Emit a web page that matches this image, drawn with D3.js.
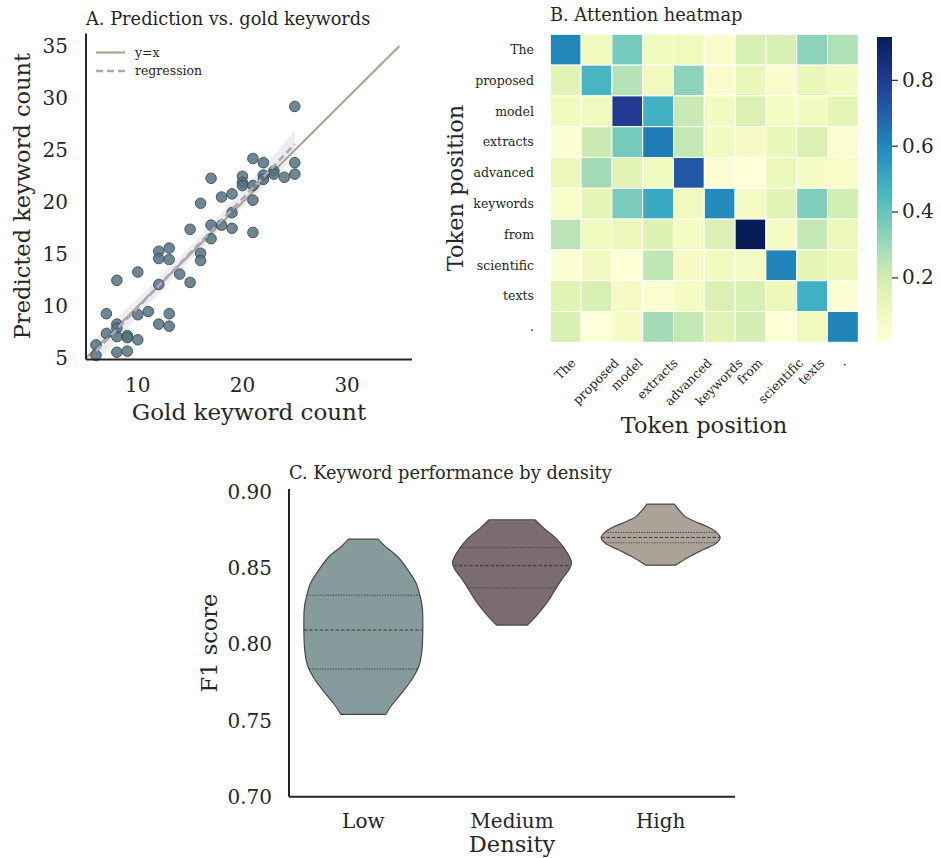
<!DOCTYPE html>
<html>
<head>
<meta charset="utf-8">
<script src="https://cdn.jsdelivr.net/npm/d3@7"></script>
<style>
  body { margin: 0; background: #fff; }
  svg text { font-family: "DejaVu Serif", serif; fill: #262626; }
</style>
</head>
<body>
<div id="container"></div>
<script>
// A. scatter: gold vs predicted counts
var goldCounts = [25,21,22,25,25,24,23,23,22,22, 20,20,20,21,21,21,19,18,17,16,
                  19,17,18,19,15,17,16,16,13,12, 12,13,14,15,10,8,12,11,10,13,
                  7,8,12,13,7,8,8,9,9,10, 6,8,9,6];
var predCounts = [29.2,24.2,23.8,23.8,22.7,22.4,23.0,22.7,22.6,22.2,
                  22.5,21.9,21.6,21.6,20.2,17.1,20.8,20.5,22.3,19.9,
                  19.0,17.8,17.8,17.5,17.4,16.5,15.1,14.4,15.6,15.3,
                  14.6,14.5,13.1,12.3,13.3,12.5,12.1,9.5,9.2,9.3,
                  9.3,8.3,8.3,8.1,7.4,7.9,7.1,7.2,7.0,6.8,
                  6.3,5.6,5.7,5.3];
var scatterXTicks = [10, 20, 30];
var scatterYTicks = [5, 10, 15, 20, 25, 30, 35];

// B. attention heatmap
var tokens = ["The","proposed","model","extracts","advanced","keywords","from","scientific","texts","."];
var attention = [
  [0.60,0.09,0.37,0.09,0.09,0.04,0.18,0.18,0.33,0.27],
  [0.15,0.46,0.26,0.09,0.33,0.04,0.12,0.04,0.12,0.08],
  [0.09,0.09,0.80,0.48,0.22,0.09,0.17,0.07,0.08,0.14],
  [0.02,0.21,0.37,0.63,0.23,0.09,0.06,0.12,0.17,0.03],
  [0.10,0.29,0.15,0.09,0.72,0.03,0.01,0.11,0.07,0.05],
  [0.05,0.14,0.36,0.50,0.09,0.59,0.07,0.15,0.35,0.20],
  [0.25,0.09,0.11,0.16,0.07,0.17,0.93,0.07,0.23,0.11],
  [0.02,0.08,0.01,0.24,0.06,0.09,0.07,0.61,0.14,0.10],
  [0.15,0.18,0.06,0.03,0.07,0.17,0.18,0.11,0.48,0.02],
  [0.18,0.003,0.06,0.29,0.23,0.15,0.19,0.005,0.09,0.61]
];
var colorbarTicks = [0.2, 0.4, 0.6, 0.8];

// C. violins: outline (F1 value, relative width)
var densities = ["Low", "Medium", "High"];
var violinColors = ["#869b9b", "#7b6c74", "#ada297"];
var lowF1   = [0.8691,0.8640,0.8575,0.8488,0.8400,0.8323,0.8247,0.8094,0.7941,0.7853,0.7766,0.7678,0.7602,0.7541];
var lowDens = [0.248,0.38,0.58,0.75,0.89,0.95,0.99,1.0,0.98,0.93,0.81,0.64,0.48,0.38];
var medF1   = [0.8818,0.8761,0.8696,0.8630,0.8564,0.8538,0.8499,0.8433,0.8368,0.8280,0.8192,0.8127];
var medDens = [0.385,0.54,0.74,0.88,0.98,1.0,0.97,0.85,0.74,0.60,0.42,0.26];
var highF1   = [0.8921,0.8881,0.8837,0.8805,0.8772,0.8739,0.8702,0.8663,0.8619,0.8575,0.8520];
var highDens = [0.23,0.31,0.42,0.59,0.79,0.93,1.0,0.93,0.70,0.48,0.25];
var lowQuart  = [0.7838, 0.8094, 0.8323];
var medQuart  = [0.8371, 0.8516, 0.8634];
var highQuart = [0.8667, 0.8702, 0.8735];
var f1Ticks = [0.70, 0.75, 0.80, 0.85, 0.90];

var width = 941, height = 858;
var ink = "#262626";
var titleSize = "17.8px";

var svg = d3.select("#container").append("svg")
  .attr("width", width).attr("height", height);

// ---------- A ----------
var xA = d3.scaleLinear().domain([5.05, 36.2]).range([86, 412]);
var yA = d3.scaleLinear().domain([4.9, 36.2]).range([359.5, 33.5]);
var gA = svg.append("g");

gA.append("text").attr("x", 86).attr("y", 25).style("font-size", titleSize)
  .text("A. Prediction vs. gold keywords");

// regression + CI
var n = goldCounts.length;
var mx = d3.mean(goldCounts), my = d3.mean(predCounts);
var sxx = d3.sum(goldCounts, function(d){ return (d - mx) * (d - mx); });
var sxy = d3.sum(goldCounts, function(d, i){ return (d - mx) * (predCounts[i] - my); });
var slope = sxy / sxx, icpt = my - slope * mx;
var sse = d3.sum(goldCounts, function(d, i){ var r = predCounts[i] - (icpt + slope * d); return r * r; });
var se = Math.sqrt(sse / (n - 2));
var tval = 2.006;
var xmin = d3.min(goldCounts), xmax = d3.max(goldCounts);
var band = d3.range(0, 101).map(function(k){
  var x = xmin + (xmax - xmin) * k / 100;
  var yh = icpt + slope * x;
  var h = tval * se * Math.sqrt(1 / n + (x - mx) * (x - mx) / sxx);
  return { x: x, lo: yh - h, hi: yh + h };
});
gA.append("path").datum(band)
  .attr("d", d3.area().x(function(d){ return xA(d.x); })
    .y0(function(d){ return yA(d.lo); }).y1(function(d){ return yA(d.hi); }))
  .attr("fill", "#aba9bb").attr("opacity", 0.22);

gA.append("line")
  .attr("x1", xA(5.05)).attr("y1", yA(5.05)).attr("x2", xA(35)).attr("y2", yA(35))
  .attr("stroke", "#b1a294").attr("stroke-width", 2.2);

gA.selectAll("circle").data(goldCounts).enter().append("circle")
  .attr("cx", function(d){ return xA(d); })
  .attr("cy", function(d, i){ return yA(predCounts[i]); })
  .attr("r", 5.3)
  .attr("fill", "#56727f").attr("fill-opacity", 0.85)
  .attr("stroke", "#2f424b").attr("stroke-width", 0.8);

gA.append("line")
  .attr("x1", xA(xmin)).attr("y1", yA(icpt + slope * xmin))
  .attr("x2", xA(xmax)).attr("y2", yA(icpt + slope * xmax))
  .attr("stroke", "#aba9bb").attr("stroke-width", 2.6).attr("stroke-dasharray", "7,4");

// legend
var legA = gA.append("g");
legA.append("line").attr("x1", 96).attr("x2", 125).attr("y1", 52.5).attr("y2", 52.5)
  .attr("stroke", "#b1a294").attr("stroke-width", 2.2);
legA.append("line").attr("x1", 96).attr("x2", 125).attr("y1", 71).attr("y2", 71)
  .attr("stroke", "#aba9bb").attr("stroke-width", 2.6).attr("stroke-dasharray", "7,4");
legA.append("text").attr("x", 135).attr("y", 52.5).attr("dy", "0.35em")
  .style("font-size", "12.5px").text("y=x");
legA.append("text").attr("x", 135).attr("y", 71).attr("dy", "0.35em")
  .style("font-size", "12.5px").text("regression");

// spines
gA.append("line").attr("x1", 86).attr("x2", 86).attr("y1", 33.5).attr("y2", 359.5)
  .attr("stroke", ink).attr("stroke-width", 2);
gA.append("line").attr("x1", 86).attr("x2", 412).attr("y1", 359.5).attr("y2", 359.5)
  .attr("stroke", ink).attr("stroke-width", 2);

gA.selectAll(".xt").data(scatterXTicks).enter().append("text")
  .attr("x", function(d){ return xA(d); }).attr("y", 392)
  .attr("text-anchor", "middle").style("font-size", "20px").text(function(d){ return d; });
gA.selectAll(".yt").data(scatterYTicks).enter().append("text")
  .attr("x", 68).attr("y", function(d){ return yA(d); }).attr("dy", "0.35em")
  .attr("text-anchor", "end").style("font-size", "20px").text(function(d){ return d; });

gA.append("text").attr("x", 249).attr("y", 420).attr("text-anchor", "middle")
  .style("font-size", "23px").text("Gold keyword count");
gA.append("text").attr("transform", "translate(30,196) rotate(-90)")
  .attr("text-anchor", "middle").style("font-size", "22.5px").text("Predicted keyword count");

// ---------- B ----------
var gB = svg.append("g");
var xB = d3.scaleBand().domain(tokens).range([550.3, 858.3]);
var yB = d3.scaleBand().domain(tokens).range([34.3, 342.3]);
var flat = [];
attention.forEach(function(row, i){ row.forEach(function(v, j){ flat.push({ r: i, c: j, v: v }); }); });
var cmin = d3.min(flat, function(d){ return d.v; }), cmax = d3.max(flat, function(d){ return d.v; });
var color = d3.scaleSequential(d3.interpolateYlGnBu).domain([cmin, cmax]);

gB.append("text").attr("x", 550).attr("y", 21).style("font-size", titleSize)
  .text("B. Attention heatmap");

gB.selectAll("rect").data(flat).enter().append("rect")
  .attr("x", function(d){ return xB(tokens[d.c]); })
  .attr("y", function(d){ return yB(tokens[d.r]); })
  .attr("width", xB.bandwidth()).attr("height", yB.bandwidth())
  .attr("fill", function(d){ return color(d.v); })
  .attr("stroke", "#fff").attr("stroke-width", 1);

gB.selectAll(".yl").data(tokens).enter().append("text")
  .attr("x", 534).attr("y", function(d){ return yB(d) + yB.bandwidth() / 2; })
  .attr("dy", "0.35em").attr("text-anchor", "end").style("font-size", "12.5px")
  .text(function(d){ return d; });

gB.selectAll(".xl").data(tokens).enter().append("text")
  .attr("text-anchor", "end").style("font-size", "12.5px")
  .text(function(d){ return d; })
  .attr("transform", function(d){
    var w = this.getComputedTextLength();
    var a = 9.5;
    var cx = xB(d) + xB.bandwidth() / 2;
    var ax = cx + 0.354 * (w + a) - 1;
    var ay = 357 + 0.707 * a;
    return "translate(" + ax + "," + ay + ") rotate(-45)";
  });

gB.append("text").attr("x", 704).attr("y", 433).attr("text-anchor", "middle")
  .style("font-size", "22.5px").text("Token position");
gB.append("text").attr("transform", "translate(463,188) rotate(-90)")
  .attr("text-anchor", "middle").style("font-size", "22.5px").text("Token position");

// colorbar
var defs = svg.append("defs");
var grad = defs.append("linearGradient").attr("id", "cbar")
  .attr("x1", 0).attr("y1", 1).attr("x2", 0).attr("y2", 0);
d3.range(0, 21).forEach(function(k){
  grad.append("stop").attr("offset", (k * 5) + "%")
    .attr("stop-color", color(cmin + (cmax - cmin) * k / 20));
});
var yCb = d3.scaleLinear().domain([cmin, cmax]).range([342.3, 37]);
gB.append("rect").attr("x", 877).attr("y", 37).attr("width", 15).attr("height", 342.3 - 37)
  .attr("fill", "url(#cbar)");
var cbAxis = gB.append("g").attr("transform", "translate(892,0)")
  .call(d3.axisRight(yCb).tickValues(colorbarTicks).tickSize(6).tickPadding(4).tickFormat(d3.format(".1f")));
cbAxis.select(".domain").remove();
cbAxis.selectAll("line").attr("stroke", ink).attr("stroke-width", 1.2);
cbAxis.selectAll("text").style("font-size", "20px").attr("font-family", null).attr("fill", ink);

// ---------- C ----------
var gC = svg.append("g");
var xC = d3.scaleBand().domain(densities).range([289, 735]);
var yC = d3.scaleLinear().domain([0.70, 0.902]).range([796.7, 489]);
var profiles = [
  { f1: lowF1, dens: lowDens, q: lowQuart },
  { f1: medF1, dens: medDens, q: medQuart },
  { f1: highF1, dens: highDens, q: highQuart }
];
var halfMax = xC.bandwidth() * 0.4;

gC.append("text").attr("x", 289).attr("y", 479).style("font-size", titleSize)
  .text("C. Keyword performance by density");

profiles.forEach(function(p, i){
  var cx = xC(densities[i]) + xC.bandwidth() / 2;
  var pts = p.f1.map(function(v, k){ return { v: v, w: p.dens[k] }; });
  gC.append("path").datum(pts)
    .attr("d", d3.area().curve(d3.curveCatmullRom)
      .y(function(d){ return yC(d.v); })
      .x0(function(d){ return cx - d.w * halfMax; })
      .x1(function(d){ return cx + d.w * halfMax; }))
    .attr("fill", violinColors[i]).attr("stroke", "#4a4a4a").attr("stroke-width", 1.2);
  var asc = pts.slice().reverse();
  var wAt = d3.scaleLinear().domain(asc.map(function(d){ return d.v; }))
    .range(asc.map(function(d){ return d.w; }));
  p.q.forEach(function(q, k){
    var w = wAt(q) * halfMax;
    gC.append("line").attr("x1", cx - w).attr("x2", cx + w)
      .attr("y1", yC(q)).attr("y2", yC(q))
      .attr("stroke", "#3a3a3a").attr("stroke-width", 1)
      .attr("stroke-dasharray", k === 1 ? "3.5,1.8" : "1.2,1.4");
  });
});

gC.append("line").attr("x1", 289).attr("x2", 289).attr("y1", 489).attr("y2", 796.7)
  .attr("stroke", ink).attr("stroke-width", 2);
gC.append("line").attr("x1", 289).attr("x2", 735).attr("y1", 796.7).attr("y2", 796.7)
  .attr("stroke", ink).attr("stroke-width", 2);

gC.selectAll(".yt").data(f1Ticks).enter().append("text")
  .attr("x", 272).attr("y", function(d){ return yC(d); }).attr("dy", "0.35em")
  .attr("text-anchor", "end").style("font-size", "20px")
  .text(function(d){ return d3.format(".2f")(d); });
gC.selectAll(".xt").data(densities).enter().append("text")
  .attr("x", function(d){ return xC(d) + xC.bandwidth() / 2; }).attr("y", 828)
  .attr("text-anchor", "middle").style("font-size", "20px").text(function(d){ return d; });

gC.append("text").attr("x", 512).attr("y", 852).attr("text-anchor", "middle")
  .style("font-size", "22.5px").text("Density");
gC.append("text").attr("transform", "translate(217,643) rotate(-90)")
  .attr("text-anchor", "middle").style("font-size", "22.5px").text("F1 score");
</script>
</body>
</html>
